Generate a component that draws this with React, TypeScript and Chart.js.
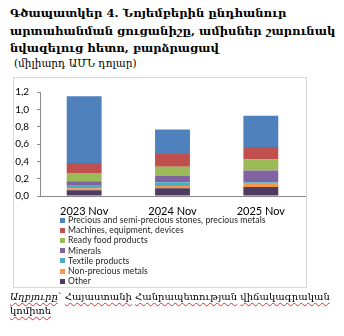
import React, { useEffect, useRef } from "react";
import { Chart, registerables } from "chart.js";
Chart.register(...registerables);

const categories = ["2023 Nov", "2024 Nov", "2025 Nov"];
const other = [0.065, 0.088, 0.105];
const nonPreciousMetals = [0.025, 0.028, 0.035];
const textileProducts = [0.028, 0.042, 0.018];
const minerals = [0.052, 0.074, 0.137];
const readyFood = [0.095, 0.105, 0.126];
const machines = [0.116, 0.147, 0.144];
const precious = [0.77, 0.284, 0.361];
const yTicks = [0, 0.2, 0.4, 0.6, 0.8, 1.0, 1.2];

const seriesNames = [
  "Other",
  "Non-precious metals",
  "Textile products",
  "Minerals",
  "Ready food products",
  "Machines, equipment, devices",
  "Precious and semi-precious stones, precious metals",
];
const seriesValues = [other, nonPreciousMetals, textileProducts, minerals, readyFood, machines, precious];
const seriesColors = ["#4D3B62", "#F79646", "#4BACC6", "#8064A2", "#9BBB59", "#C0504D", "#4F81BD"];

const titleLines = [
  "Գծապատկեր 4. Նոյեմբերին ընդհանուր",
  "արտահանման ցուցանիշը, ամիսներ շարունակ",
  "նվազելուց հետո, բարձրացավ",
];
const subtitle = "(միլիարդ ԱՄՆ դոլար)";
const sourceLabel = "Աղբյուրը";
const sourceLine1 = "Հայաստանի Հանրապետության վիճակագրական";
const sourceLine2 = "կոմիտե";

const CW = 292;
const CH = 142;

function Wavy({ text }: { text: string }) {
  const words = text.split(" ");
  return (
    <>
      {words.map((w, i) => (
        <React.Fragment key={i}>
          <span style={{ textDecoration: "underline wavy #e03030", textDecorationThickness: "1px", textUnderlineOffset: "2px" }}>{w}</span>
          {i < words.length - 1 ? " " : ""}
        </React.Fragment>
      ))}
    </>
  );
}

export default function App() {
  const ref = useRef<HTMLCanvasElement | null>(null);
  useEffect(() => {
    document.body.style.margin = "0";
    const chart = new Chart(ref.current!, {
      type: "bar",
      data: {
        labels: categories,
        datasets: seriesNames.map((n, i) => ({
          label: n,
          data: seriesValues[i],
          backgroundColor: seriesColors[i],
          borderWidth: 0,
          barPercentage: 0.79,
          categoryPercentage: 0.5,
        })),
      },
      options: {
        animation: false,
        responsive: false,
        layout: { padding: { top: 4, right: 1, left: 0, bottom: 0 } },
        plugins: { legend: { display: false }, tooltip: { enabled: false } },
        scales: {
          x: {
            stacked: true,
            grid: { display: false, drawTicks: false },
            border: { color: "#8a8a8a", width: 1 },
            ticks: { padding: 9, color: "#000", font: { family: "Lato", size: 11 } },
            afterFit: (s: any) => { s.height = CH - 4 - 114; },
          },
          y: {
            stacked: true,
            min: 0,
            max: 1.2,
            afterBuildTicks: (s: any) => { s.ticks = yTicks.map((v) => ({ value: v })); },
            grid: { drawOnChartArea: false, drawTicks: true, tickLength: 3, color: "#8a8a8a" },
            border: { color: "#8a8a8a", width: 1 },
            ticks: {
              padding: 8,
              color: "#000",
              font: { family: "Lato", size: 10 },
              callback: (v: any) => Number(v).toFixed(1).replace(".", ","),
            },
            afterFit: (s: any) => { s.width = 26; },
          },
        },
      },
    });
    return () => chart.destroy();
  }, []);

  const legendItems = seriesNames.map((n, i) => ({ n, c: seriesColors[i] })).reverse();

  return (
    <div style={{ position: "relative", width: 344, height: 336, background: "#fff", overflow: "hidden" }}>
      <div style={{ position: "absolute", left: 10, top: 5, fontFamily: "DejaVu Serif", fontWeight: "bold", fontSize: 11.6, lineHeight: "17.5px", whiteSpace: "nowrap", color: "#000" }}>
        {titleLines.map((l, i) => <div key={i}>{l}</div>)}
      </div>
      <div style={{ position: "absolute", left: 14, top: 56, fontFamily: "DejaVu Serif", fontSize: 10.5, lineHeight: "14px", whiteSpace: "nowrap", color: "#000" }}>
        {subtitle}
      </div>
      <div style={{ position: "absolute", left: 13, top: 77, width: 292, height: 209, border: "1px solid #d9d9d9" }} />
      <canvas ref={ref} width={CW} height={CH} style={{ position: "absolute", left: 14, top: 78, width: CW, height: CH }} />
      <div style={{ position: "absolute", left: 60, top: 215, fontFamily: "Lato", fontSize: 8.6, color: "#222" }}>
        {legendItems.map((it, i) => (
          <div key={i} style={{ height: 10.2, lineHeight: "10.2px", display: "flex", alignItems: "center", whiteSpace: "nowrap" }}>
            <span style={{ width: 5, height: 5, background: it.c, display: "inline-block", marginRight: 3 }} />
            <span style={{ letterSpacing: "0.1px" }}>{it.n}</span>
          </div>
        ))}
      </div>
      <div style={{ position: "absolute", left: 10, top: 290, fontFamily: "DejaVu Serif", fontSize: 10, lineHeight: "14px", whiteSpace: "nowrap", color: "#000" }}>
        <div><i><Wavy text={sourceLabel} /></i>՝ <Wavy text={sourceLine1} /></div>
        <div><Wavy text={sourceLine2} /></div>
      </div>
    </div>
  );
}
